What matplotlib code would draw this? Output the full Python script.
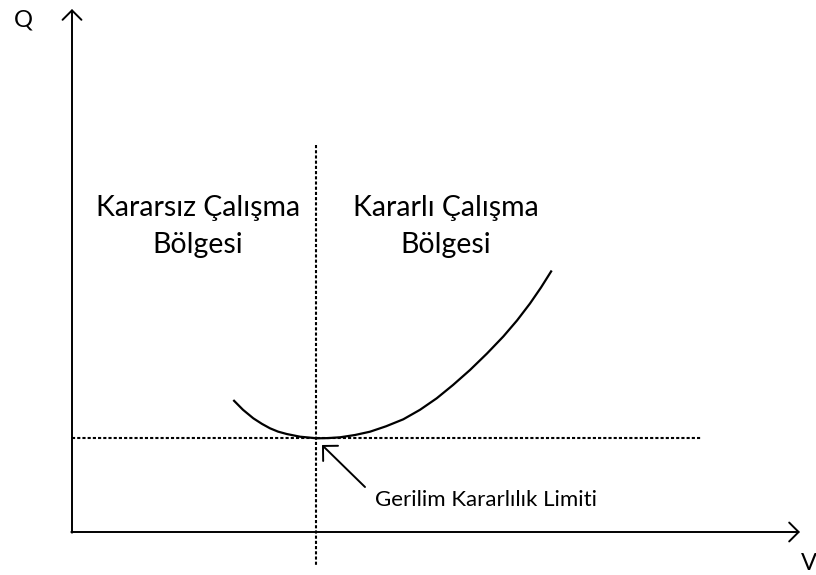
import matplotlib.pyplot as plt
import numpy as np

plt.rcParams['font.family'] = ['Lato', 'DejaVu Sans']

# Q-V curve, in drawing units (x to the right, y downward)
curve_v = [233.3, 243, 253.3, 262, 270, 278, 286.7, 300, 316.7, 328, 340, 355, 370,
           386, 403.3, 420, 436.7, 453, 470, 487, 503.3, 517, 530, 541, 551.7]
curve_q = [400, 409.8, 418.3, 423.9, 428.3, 431.6, 434, 436.7, 438.3, 438.1, 437.3, 435, 431.7,
           426.3, 419.3, 409.8, 398.3, 385, 370, 353.5, 336.5, 320.5, 303.5, 287.5, 270.5]

limit_v = 316
limit_q = 438

left_label = ["Kararsız Çalışma", "Bölgesi"]
right_label = ["Kararlı Çalışma", "Bölgesi"]
limit_label = "Gerilim Kararlılık Limiti"

fig = plt.figure(figsize=(8.16, 5.75), dpi=100)
ax = fig.add_axes([0, 0, 1, 1])
ax.set_xlim(0, 816)
ax.set_ylim(575, 0)
ax.axis('off')

# axes with open arrow heads
arrow = dict(arrowstyle='->, head_length=0.4, head_width=0.4', lw=1.4,
             color='black', mutation_scale=17, shrinkA=0, shrinkB=0)
ax.annotate('', xy=(72, 9), xytext=(72, 532.7), arrowprops=arrow)
ax.annotate('', xy=(800, 532), xytext=(71.3, 532), arrowprops=arrow)
ax.text(23, 27, 'Q', fontsize=17, ha='center', va='baseline')
ax.text(801, 570, 'V', fontsize=17, ha='left', va='baseline')

# dotted guide lines through the limit point
dots = (0, (1.5, 1.0))
ax.plot([limit_v, limit_v], [145, 566], color='black', lw=1.5, ls=dots)
ax.plot([72, 701], [limit_q, limit_q], color='black', lw=1.5, ls=dots)

ax.plot(curve_v, curve_q, color='black', lw=1.6, solid_capstyle='butt',
        solid_joinstyle='round')

for i, line in enumerate(left_label):
    ax.text(198, 216 + 37 * i, line, fontsize=20.5, ha='center', va='baseline')
for i, line in enumerate(right_label):
    ax.text(446, 216 + 37 * i, line, fontsize=20.5, ha='center', va='baseline')

ax.annotate('', xy=(322, 445), xytext=(365, 487),
            arrowprops=dict(arrowstyle='->, head_length=0.45, head_width=0.45', lw=1.4,
                            color='black', mutation_scale=17, shrinkA=0, shrinkB=0))
ax.text(375, 506, limit_label, fontsize=16, ha='left', va='baseline')

fig.savefig('out.png', dpi=100)
